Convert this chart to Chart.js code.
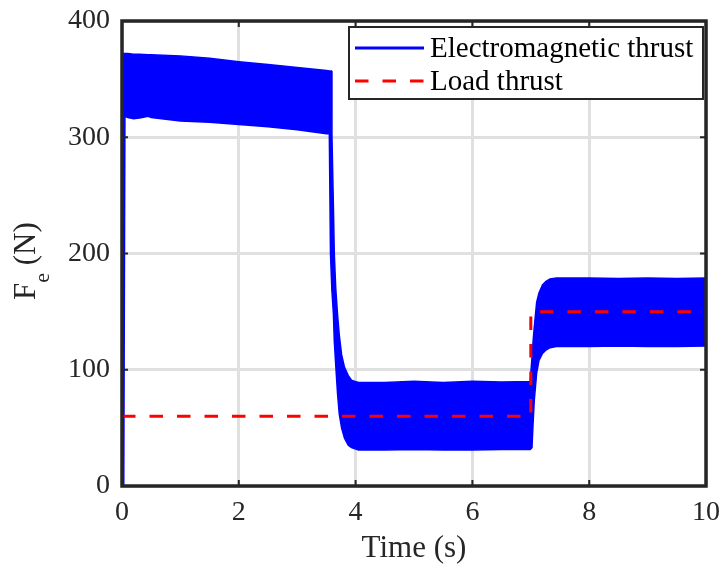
<!DOCTYPE html>
<html>
<head>
<meta charset="utf-8">
<script src="https://cdn.jsdelivr.net/npm/chart.js@4"></script>
<style>
  html, body { margin: 0; padding: 0; background: #fff; }
</style>
</head>
<body>
<canvas id="myChart" width="721" height="571"></canvas>
<script>
'use strict'

// thrust envelope (upper / lower edge of the ripple band), sampled in time
const time = [0, 0.01, 0.03, 0.05, 0.1, 0.2, 0.3, 0.45, 0.5, 1, 1.5, 2, 2.5, 3, 3.5, 3.55, 3.57, 3.585, 3.595, 3.62,
  3.635, 3.66, 3.69, 3.72, 3.76, 3.81, 3.875, 3.93, 3.99, 4.05, 4.5, 5, 5.5, 6, 6.5, 6.99, 7.0, 7.02, 7.04, 7.06,
  7.1, 7.14, 7.2, 7.26, 7.33, 7.44, 8, 8.5, 9, 9.5, 10]
const thrustUpper = [0, 372, 372, 372, 372, 371.5, 371.5, 371, 371, 370, 368, 365, 362.5, 360, 357.5, 357, 357, 357, 301, 240,
  200, 170, 148, 130, 113, 102, 95, 91, 90, 89, 89, 90, 89, 90, 89.5, 90, 90, 110, 125, 137,
  158, 166, 173, 176, 178, 179, 179, 178.5, 179, 178.5, 179]
const thrustLower = [0, 0, 0, 318, 317, 316, 316.5, 318, 317, 314, 313, 311, 309, 306.5, 303, 303, 200, 180, 168, 148,
  125, 104, 80, 62, 50, 41, 35, 33, 32, 31, 31, 31.5, 31, 31, 31.5, 31.5, 31.5, 33, 55, 74,
  97, 108, 114, 117, 119, 120, 120, 120.5, 120, 120, 120.5]

// load thrust step
const loadTime = [0, 7, 7, 10]
const loadValue = [60, 60, 150, 150]

const xTicks = [0, 2, 4, 6, 8, 10]
const yTicks = [0, 100, 200, 300, 400]
const legendLabels = ['Electromagnetic thrust', 'Load thrust']

const axisColor = '#262626'
const serif = "'Liberation Serif', 'Times New Roman', serif"
const dash = [13.5, 14]

function pairs(xs, ys) {
  return xs.map((x, i) => ({ x: x, y: ys[i] }))
}

// box around the axes, inward ticks, y label with subscript, legend
const framePlugin = {
  id: 'frame',
  afterDraw(chart) {
    const ctx = chart.ctx
    const a = chart.chartArea
    const sx = chart.scales.x
    const sy = chart.scales.y
    ctx.save()
    ctx.strokeStyle = axisColor
    ctx.lineWidth = 2
    ctx.beginPath()
    for (const t of xTicks) {
      const px = sx.getPixelForValue(t)
      ctx.moveTo(px, a.bottom); ctx.lineTo(px, a.bottom - 6)
      ctx.moveTo(px, a.top); ctx.lineTo(px, a.top + 6)
    }
    for (const t of yTicks) {
      const py = sy.getPixelForValue(t)
      ctx.moveTo(a.left, py); ctx.lineTo(a.left + 6, py)
      ctx.moveTo(a.right, py); ctx.lineTo(a.right - 6, py)
    }
    ctx.stroke()
    ctx.lineWidth = 3.5
    ctx.strokeRect(a.left, a.top, a.right - a.left, a.bottom - a.top)

    // y axis title: F_e (N)
    ctx.save()
    ctx.translate(35, 300)
    ctx.rotate(-Math.PI / 2)
    ctx.fillStyle = axisColor
    ctx.textBaseline = 'alphabetic'
    ctx.font = '31px ' + serif
    ctx.fillText('F', 0, 0)
    const fw = ctx.measureText('F').width
    ctx.font = '22px ' + serif
    ctx.fillText('e', fw, 14)
    const ew = ctx.measureText('e').width
    ctx.font = '31px ' + serif
    ctx.fillText(' (N)', fw + ew, 0)
    ctx.restore()

    // legend
    const bx = 349, by = 27, bw = 354, bh = 72
    ctx.fillStyle = '#fff'
    ctx.fillRect(bx, by, bw, bh)
    ctx.lineWidth = 2
    ctx.strokeStyle = axisColor
    ctx.strokeRect(bx, by, bw, bh)
    ctx.lineWidth = 3
    ctx.strokeStyle = '#0000ff'
    ctx.beginPath(); ctx.moveTo(355, 48); ctx.lineTo(424, 48); ctx.stroke()
    ctx.strokeStyle = '#ff0000'
    ctx.setLineDash(dash)
    ctx.beginPath(); ctx.moveTo(355, 81); ctx.lineTo(424, 81); ctx.stroke()
    ctx.setLineDash([])
    ctx.fillStyle = '#000'
    ctx.font = '29px ' + serif
    ctx.fillText(legendLabels[0], 430, 57)
    ctx.fillText(legendLabels[1], 430, 90)
    ctx.restore()
  }
}

const config = {
  type: 'line',
  data: {
    datasets: [
      {
        label: legendLabels[1],
        data: pairs(loadTime, loadValue),
        borderColor: '#ff0000',
        borderWidth: 3,
        borderDash: dash,
        pointRadius: 0,
        fill: false
      },
      {
        label: legendLabels[0],
        data: pairs(time, thrustUpper),
        borderColor: '#0000ff',
        backgroundColor: '#0000ff',
        borderWidth: 1.5,
        pointRadius: 0,
        fill: 2
      },
      {
        label: 'lower',
        data: pairs(time, thrustLower),
        borderColor: '#0000ff',
        borderWidth: 1.5,
        pointRadius: 0,
        fill: false
      }
    ]
  },
  options: {
    responsive: false,
    animation: false,
    devicePixelRatio: 1,
    layout: { padding: { top: 21, right: 15, left: 0, bottom: 0 } },
    plugins: {
      legend: { display: false },
      tooltip: { enabled: false }
    },
    scales: {
      x: {
        type: 'linear',
        min: 0,
        max: 10,
        afterFit(scale) {
          scale.height = 85
          scale.paddingLeft = 0
          scale.paddingRight = 0
        },
        afterBuildTicks(scale) { scale.ticks = xTicks.map(v => ({ value: v })) },
        grid: { color: '#e0e0e0', lineWidth: 3, drawTicks: false },
        border: { display: false },
        ticks: { color: axisColor, padding: 10, maxRotation: 0, font: { family: serif, size: 28 } },
        title: { display: true, text: 'Time (s)', color: axisColor, padding: { top: 0, bottom: 4 }, font: { family: serif, size: 31 } }
      },
      y: {
        min: 0,
        max: 400,
        afterFit(scale) {
          scale.width = 122
          scale.paddingTop = 0
          scale.paddingBottom = 0
        },
        afterBuildTicks(scale) { scale.ticks = yTicks.map(v => ({ value: v })) },
        grid: { color: '#e0e0e0', lineWidth: 3, drawTicks: false },
        border: { display: false },
        ticks: { color: axisColor, padding: 12, font: { family: serif, size: 28 } }
      }
    }
  },
  plugins: [framePlugin]
}

const myChart = new Chart(document.getElementById('myChart'), config)
</script>
</body>
</html>
